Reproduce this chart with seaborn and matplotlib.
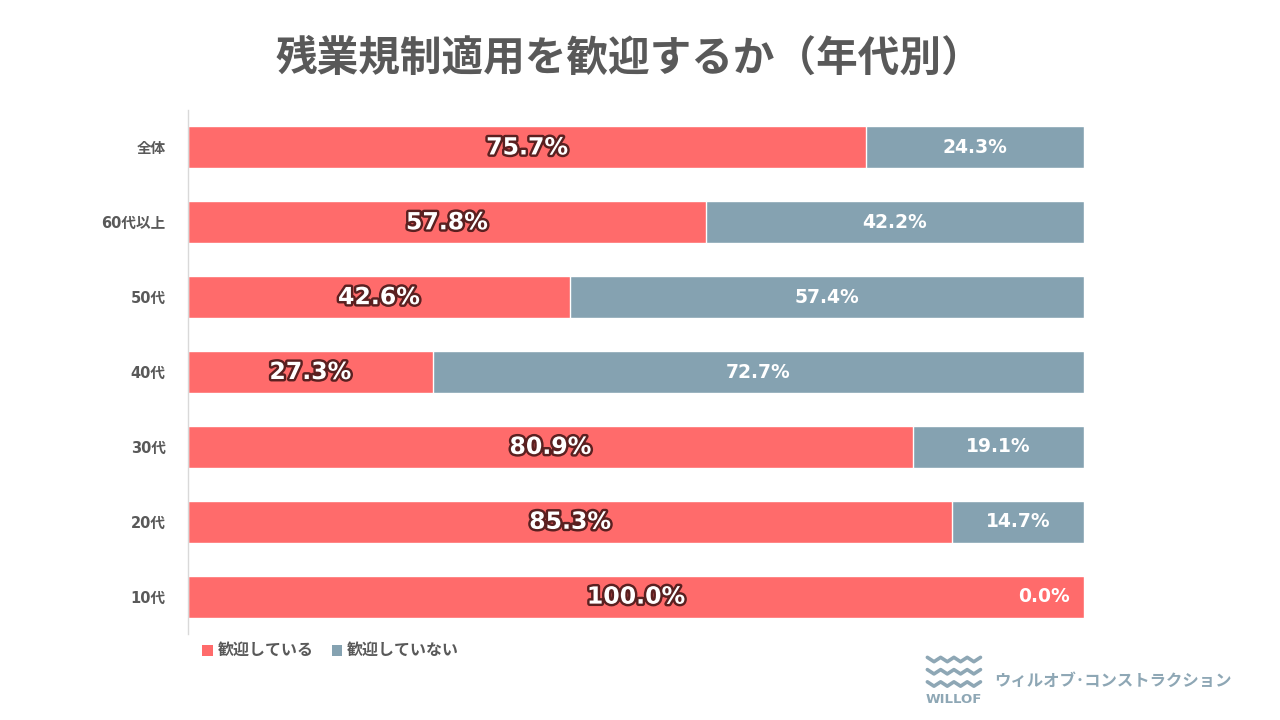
import matplotlib
matplotlib.use("Agg")
import matplotlib.pyplot as plt
import matplotlib.patheffects as pe
from matplotlib.lines import Line2D
from matplotlib.patches import Rectangle
import numpy as np
import pandas as pd
import seaborn as sns

categories = ["全体", "60代以上", "50代", "40代", "30代", "20代", "10代"]
welcome = [75.7, 57.8, 42.6, 27.3, 80.9, 85.3, 100.0]
not_welcome = [24.3, 42.2, 57.4, 72.7, 19.1, 14.7, 0.0]
series_names = ["歓迎している", "歓迎していない"]

RED = "#FF6B6B"
GREY = "#85A2B1"
TEXT = "#595959"
NUM_FONT = ["DejaVu Sans", "Noto Sans CJK JP"]

sns.set_theme(style="white")
plt.rcParams["font.family"] = ["Noto Sans CJK JP", "DejaVu Sans"]

df = pd.DataFrame({"cat": categories, "welcome": welcome, "not_welcome": not_welcome})
df["total"] = df["welcome"] + df["not_welcome"]

fig = plt.figure(figsize=(12.8, 7.2), dpi=100)
ax = fig.add_axes([0.1469, 0.1194, 0.7, 0.7278])

# stacked: full length grey, red on top
sns.barplot(data=df, x="total", y="cat", orient="h", color=GREY, width=0.56,
            saturation=1, ax=ax)
sns.barplot(data=df, x="welcome", y="cat", orient="h", color=RED, width=0.56,
            saturation=1, ax=ax)

ax.set_xlim(0, 100)
ax.set_ylim(6.5, -0.5)
ax.set_xlabel("")
ax.set_ylabel("")
ax.set_xticks([])
for s in ["top", "right", "bottom"]:
    ax.spines[s].set_visible(False)
ax.spines["left"].set_color("#D9D9D9")
ax.spines["left"].set_linewidth(1)
ax.tick_params(axis="y", length=0, pad=16)
for lbl in ax.get_yticklabels():
    lbl.set_fontsize(10.5)
    lbl.set_fontweight("bold")
    lbl.set_color(TEXT)
    lbl.set_family(NUM_FONT)

outline = [pe.withStroke(linewidth=3.5, foreground="#5A2020")]
for i, (w, n) in enumerate(zip(welcome, not_welcome)):
    ax.text(w / 2, i, f"{w:.1f}%", ha="center", va="center", fontsize=17,
            fontweight="bold", color="white", path_effects=outline,
            family=NUM_FONT)
    nx = w + n / 2 if n > 0 else 95.5
    ax.text(nx, i, f"{n:.1f}%", ha="center", va="center", fontsize=13.5,
            fontweight="bold", color="white", family=NUM_FONT)

fig.text(0.492, 0.918, "残業規制適用を歓迎するか（年代別）", ha="center", va="center",
         fontsize=30, fontweight="bold", color=TEXT)

# legend
for x0, name, c in [(0.158, series_names[0], RED), (0.259, series_names[1], GREY)]:
    fig.add_artist(Rectangle((x0, 0.089), 0.0085, 0.015, transform=fig.transFigure,
                             color=c, lw=0))
    fig.text(x0 + 0.012, 0.097, name, ha="left", va="center", fontsize=11.5,
             fontweight="bold", color=TEXT)

# logo
LOGO = "#8EA7B5"
xs = np.linspace(0.7245, 0.766, 9)
for yb in [0.081, 0.064, 0.047]:
    ys = [yb + (0.006 if k % 2 == 0 else 0) for k in range(len(xs))]
    fig.add_artist(Line2D(xs, ys, transform=fig.transFigure, color=LOGO, lw=2.6))
fig.text(0.745, 0.028, "WILLOF", ha="center", va="center", fontsize=9.5,
         fontweight="bold", color=LOGO, family=["DejaVu Sans"])
fig.text(0.777, 0.054, "ウィルオブ･コンストラクション", ha="left", va="center",
         fontsize=11.8, fontweight="bold", color=LOGO)

fig.savefig("out.png", dpi=100, facecolor="white")
